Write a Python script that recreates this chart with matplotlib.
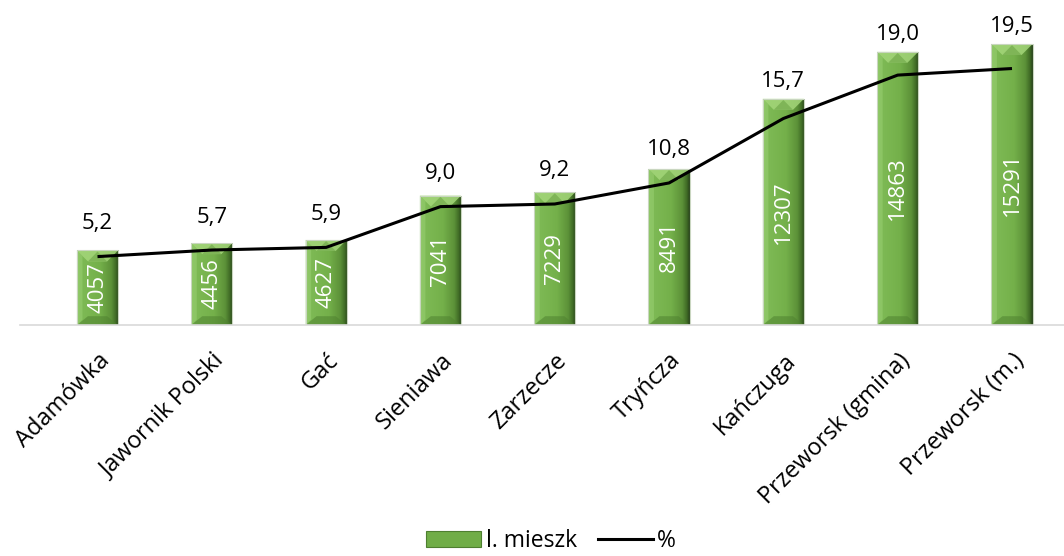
import matplotlib
matplotlib.use("Agg")
import matplotlib.pyplot as plt
import numpy as np
from matplotlib.patches import Polygon, Patch
from matplotlib.lines import Line2D
from matplotlib.colors import LinearSegmentedColormap

categories = ["Adamówka", "Jawornik Polski", "Gać", "Sieniawa", "Zarzecze",
              "Tryńcza", "Kańczuga", "Przeworsk (gmina)", "Przeworsk (m.)"]
residents = [4057, 4456, 4627, 7041, 7229, 8491, 12307, 14863, 15291]
percent = [5.2, 5.7, 5.9, 9.0, 9.2, 10.8, 15.7, 19.0, 19.5]
bar_label = "l. mieszk"
line_label = "%"

plt.rcParams['font.family'] = ['Open Sans', 'DejaVu Sans']
FS = 16
FS_TICK = 17

W, H, DPI = 1064, 556, 100
fig = plt.figure(figsize=(W / DPI, H / DPI), dpi=DPI)
base_px = 325
ax = fig.add_axes([20 / W, (H - base_px) / H, 1 - 20 / W, base_px / H])
ax2 = ax.twinx()

n = len(categories)
x = np.arange(n)
ax.set_xlim(-0.678, 8.455)
ax.set_ylim(0, 17685)
ax2.set_ylim(0, 24.71)

bw = 0.36
bars = ax.bar(x, residents, width=bw, color='#70AD47', edgecolor='none', zorder=2)

cmap = LinearSegmentedColormap.from_list(
    "g", [(0, '#86C25E'), (0.15, '#7DB954'), (0.55, '#74B04A'),
          (0.82, '#5C9138'), (0.93, '#3F6A26'), (1.0, '#26401A')])
grad = np.linspace(0, 1, 256).reshape(1, -1)

px_x = (1064 - 20) / (8.455 + 0.678)
px_y = base_px / 17685.0
bev_px = 11
dx = bev_px / px_x
dy = bev_px / px_y

for b in bars:
    x0 = b.get_x(); x1 = x0 + b.get_width(); y1 = b.get_height()
    im = ax.imshow(grad, aspect='auto', cmap=cmap, extent=(x0, x1, 0, y1), zorder=2.1)
    im.set_clip_path(b)
    # top bevel
    ax.add_patch(Polygon([(x0, y1), (x1, y1), (x1 - dx, y1 - dy), (x0 + dx, y1 - dy)],
                         closed=True, facecolor='#A4D67A', edgecolor='none', alpha=0.85, zorder=2.2))
    ax.add_patch(Polygon([(x0 + dx, y1 - dy), ((x0 + x1) / 2, y1 - 0.1 * dy), (x1 - dx, y1 - dy)],
                         closed=True, facecolor='#7AB153', edgecolor='none', alpha=0.85, zorder=2.25))
    # bottom bevel
    ax.add_patch(Polygon([(x0, 0), (x1, 0), (x1 - dx, dy * 0.8), (x0 + dx, dy * 0.8)],
                         closed=True, facecolor='#4F8230', edgecolor='none', alpha=0.55, zorder=2.2))
    # left highlight strip
    ax.add_patch(Polygon([(x0, 0), (x0, y1), (x0 + dx * 0.5, y1 - dy * 0.5), (x0 + dx * 0.5, dy * 0.5)],
                         closed=True, facecolor='#95CC6E', edgecolor='none', alpha=0.6, zorder=2.2))
    ax.add_patch(plt.Rectangle((x0, 0), x1 - x0, y1, fill=False, edgecolor='#C9D6C0',
                               linewidth=0.8, zorder=2.3))

for xi, v in zip(x, residents):
    ax.text(xi, v / 2, str(v), rotation=90, ha='center', va='center',
            color='white', fontsize=FS, zorder=3)

ax2.plot(x, percent, color='black', linewidth=2.2, zorder=4, solid_capstyle='butt')

fig.canvas.draw()
for xi, v, p in zip(x, residents, percent):
    ly = ax2.transData.transform((xi, p))[1]
    by = ax.transData.transform((xi, v))[1]
    target = max(ly + 33, by + 17)
    off = (target - ly) * 72 / DPI
    ax2.annotate(f"{p:.1f}".replace('.', ','), xy=(xi, p), xytext=(0, off),
                 textcoords='offset points', ha='center', va='center',
                 fontsize=FS, color='black', annotation_clip=False)

for a in (ax, ax2):
    for s in ('top', 'right', 'left'):
        a.spines[s].set_visible(False)
    a.set_yticks([])
ax2.spines['bottom'].set_visible(False)
ax.spines['bottom'].set_color('#D9D9D9')
ax.spines['bottom'].set_linewidth(1.2)
ax.patch.set_alpha(0)

ax.set_xticks(x)
ax.set_xticklabels(categories, rotation=45, ha='right', va='top',
                   rotation_mode='anchor', fontsize=FS_TICK)
ax.tick_params(axis='x', length=0, pad=17)

handles = [Patch(facecolor='#70AD47', edgecolor='#4E7F30', linewidth=0.8, label=bar_label),
           Line2D([0], [0], color='black', linewidth=2.2, label=line_label)]
fig.legend(handles=handles, loc='center', bbox_to_anchor=(0.518, 1 - 541 / H), ncol=2,
           frameon=False, fontsize=16.5, handlelength=2.4, handleheight=0.75,
           columnspacing=0.9, handletextpad=0.2, borderpad=0.2)

fig.savefig("out.png", dpi=DPI)
